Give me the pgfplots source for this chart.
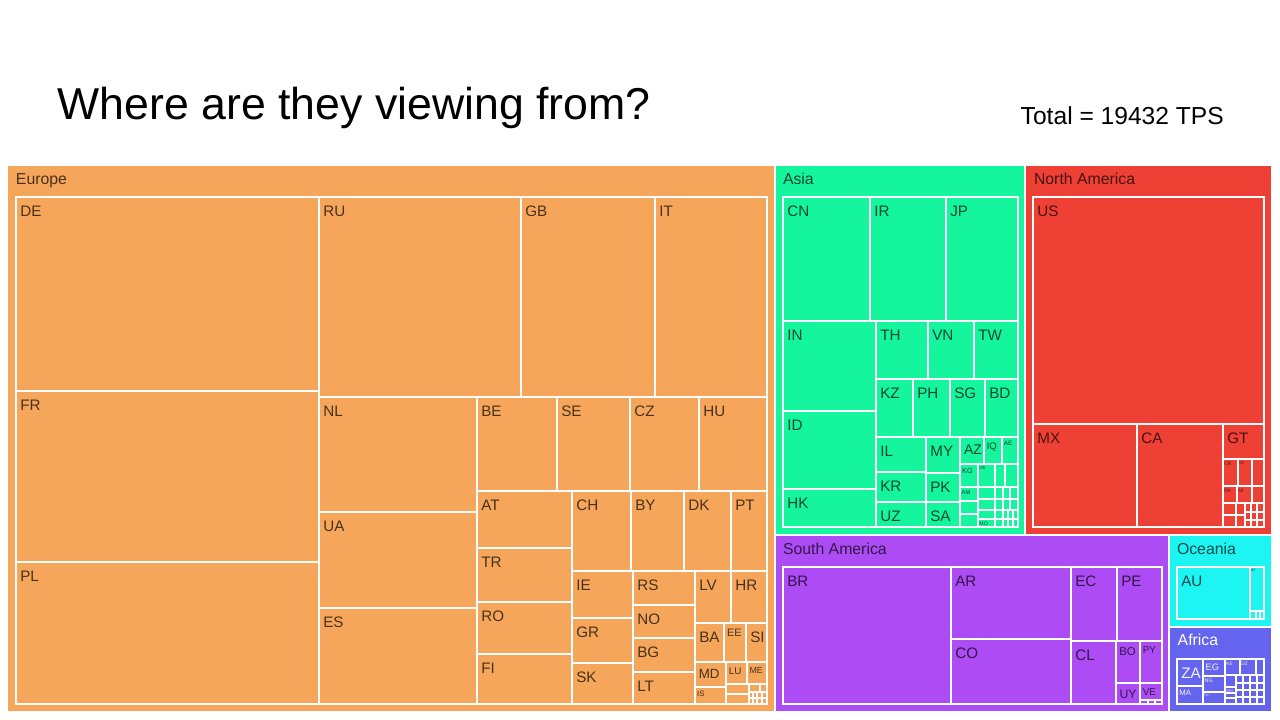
\documentclass[border=0pt]{standalone}
\usepackage{pgfplots}
\pgfplotsset{compat=1.18}
\usepackage{fontspec}
\setmainfont{Liberation Sans}
\definecolor{EU}{RGB}{245,166,91}
\definecolor{AS}{RGB}{20,245,158}
\definecolor{NA}{RGB}{238,64,52}
\definecolor{SA}{RGB}{173,76,245}
\definecolor{OC}{RGB}{28,245,242}
\definecolor{AF}{RGB}{100,100,238}
% region rectangle
\newcommand{\G}[5]{\addplot[fill=#1, draw=white, line width=0.55pt] coordinates {(#2,#3) (#4,#3) (#4,#5) (#2,#5)} --cycle;}
% country rectangle
\newcommand{\R}[5]{\addplot[fill=#1, draw=white, line width=0.42pt] coordinates {(#2,#3) (#4,#3) (#4,#5) (#2,#5)} --cycle;}
% label: left, top, cap height (px), text
\newcommand{\lab}[4]{\node[anchor=base west, inner sep=0pt, outer sep=0pt, text=black, text opacity=0.7, font=\fontsize{\fpeval{#3*0.42}}{\fpeval{#3*0.5}}\selectfont] at (axis cs:{#1+0.42*#3},{#2+1.88*#3}) {#4};}
\newcommand{\labw}[4]{\node[anchor=base west, inner sep=0pt, outer sep=0pt, text=white, text opacity=0.92, font=\fontsize{\fpeval{#3*0.42}}{\fpeval{#3*0.5}}\selectfont] at (axis cs:{#1+0.42*#3},{#2+1.88*#3}) {#4};}
\newcommand{\reglab}[3]{\node[anchor=base west, inner sep=0pt, outer sep=0pt, text=black, text opacity=0.7, font=\fontsize{4.5}{5.5}\selectfont] at (axis cs:#1,#2) {#3};}
\begin{document}
\begin{tikzpicture}
\begin{axis}[scale only axis, width=12.8cm, height=7.2cm,
  xmin=0, xmax=1280, ymin=0, ymax=720, y dir=reverse,
  hide axis, clip=false]
% ---------- regions ----------
\G{EU}{7.5}{165.5}{775}{711.5}
\G{AS}{775}{165.5}{1025}{535}
\G{NA}{1025}{165.5}{1272}{535}
\G{SA}{775}{535}{1169}{711.5}
\G{OC}{1169}{535}{1272}{627}
\G{AF}{1169}{627}{1272}{711.5}
% ---------- Europe ----------
\R{EU}{16}{197}{319}{391}
\R{EU}{16}{391}{319}{562}
\R{EU}{16}{562}{319}{704}
\R{EU}{319}{197}{521}{397}
\R{EU}{521}{197}{655}{397}
\R{EU}{655}{197}{767}{397}
\R{EU}{319}{397}{477}{512}
\R{EU}{319}{512}{477}{608}
\R{EU}{319}{608}{477}{704}
\R{EU}{477}{397}{557}{491}
\R{EU}{557}{397}{630}{491}
\R{EU}{630}{397}{699}{491}
\R{EU}{699}{397}{767}{491}
\R{EU}{477}{491}{572}{548}
\R{EU}{477}{548}{572}{602}
\R{EU}{477}{602}{572}{654}
\R{EU}{477}{654}{572}{704}
\R{EU}{572}{491}{631}{571}
\R{EU}{631}{491}{684}{571}
\R{EU}{684}{491}{731}{571}
\R{EU}{731}{491}{767}{571}
\R{EU}{572}{571}{633}{618}
\R{EU}{572}{618}{633}{663}
\R{EU}{572}{663}{633}{704}
\R{EU}{633}{571}{695}{605}
\R{EU}{633}{605}{695}{638}
\R{EU}{633}{638}{695}{672}
\R{EU}{633}{672}{695}{704}
\R{EU}{695}{571}{731}{623}
\R{EU}{731}{571}{767}{623}
\R{EU}{695}{623}{724}{662}
\R{EU}{724}{623}{746}{662}
\R{EU}{746}{623}{767}{662}
\R{EU}{695}{662}{726}{687}
\R{EU}{726}{662}{747}{684}
\R{EU}{747}{662}{767}{684}
\R{EU}{695}{687}{726}{704}
\R{EU}{726}{684}{749}{694}
\R{EU}{726}{694}{749}{704}
\R{EU}{749}{684}{760}{692}
\R{EU}{760}{684}{767}{692}
\R{EU}{749}{692}{753}{698}
\R{EU}{753}{692}{757}{698}
\R{EU}{757}{692}{762}{698}
\R{EU}{762}{692}{767}{698}
\R{EU}{749}{698}{753}{704}
\R{EU}{753}{698}{757}{704}
\R{EU}{757}{698}{762}{704}
\R{EU}{762}{698}{767}{704}
% ---------- Asia ----------
\R{AS}{783}{197}{870}{321}
\R{AS}{870}{197}{946}{321}
\R{AS}{946}{197}{1018}{321}
\R{AS}{783}{321}{876}{411}
\R{AS}{783}{411}{876}{489}
\R{AS}{783}{489}{876}{527}
\R{AS}{876}{321}{928}{379}
\R{AS}{928}{321}{974}{379}
\R{AS}{974}{321}{1018}{379}
\R{AS}{876}{379}{913}{437}
\R{AS}{913}{379}{950}{437}
\R{AS}{950}{379}{985}{437}
\R{AS}{985}{379}{1018}{437}
\R{AS}{876}{437}{926}{472}
\R{AS}{876}{472}{926}{502}
\R{AS}{876}{502}{926}{527}
\R{AS}{926}{437}{960}{473}
\R{AS}{926}{473}{960}{502}
\R{AS}{926}{502}{960}{527}
\R{AS}{960}{437}{984}{464}
\R{AS}{984}{437}{1002}{464}
\R{AS}{1002}{437}{1018}{464}
\R{AS}{960}{464}{978}{487}
\R{AS}{978}{464}{995}{487}
\R{AS}{995}{464}{1005}{487}
\R{AS}{1005}{464}{1018}{487}
\R{AS}{960}{487}{978}{501}
\R{AS}{960}{501}{978}{514}
\R{AS}{960}{514}{978}{527}
\R{AS}{978}{487}{995}{499}
\R{AS}{995}{487}{1003}{499}
\R{AS}{1003}{487}{1010}{499}
\R{AS}{1010}{487}{1018}{499}
\R{AS}{978}{499}{995}{510}
\R{AS}{995}{499}{1003}{510}
\R{AS}{1003}{499}{1010}{510}
\R{AS}{1010}{499}{1018}{510}
\R{AS}{978}{510}{995}{519}
\R{AS}{995}{510}{1003}{519}
\R{AS}{1003}{510}{1008}{519}
\R{AS}{1008}{510}{1013}{519}
\R{AS}{1013}{510}{1018}{519}
\R{AS}{978}{519}{995}{527}
\R{AS}{995}{519}{1003}{527}
\R{AS}{1003}{519}{1008}{527}
\R{AS}{1008}{519}{1013}{527}
\R{AS}{1013}{519}{1018}{527}
% ---------- North America ----------
\R{NA}{1033}{197}{1264}{424}
\R{NA}{1033}{424}{1137}{527}
\R{NA}{1137}{424}{1223}{527}
\R{NA}{1223}{424}{1264}{459}
\R{NA}{1223}{459}{1238}{486}
\R{NA}{1238}{459}{1252}{486}
\R{NA}{1252}{459}{1264}{486}
\R{NA}{1223}{486}{1237}{503}
\R{NA}{1237}{486}{1252}{503}
\R{NA}{1252}{486}{1264}{503}
\R{NA}{1223}{503}{1236}{515}
\R{NA}{1223}{515}{1236}{527}
\R{NA}{1236}{503}{1245}{515}
\R{NA}{1236}{515}{1245}{527}
\R{NA}{1245}{503}{1251}{512}
\R{NA}{1251}{503}{1257}{512}
\R{NA}{1257}{503}{1264}{512}
\R{NA}{1245}{512}{1251}{520}
\R{NA}{1251}{512}{1257}{520}
\R{NA}{1257}{512}{1264}{520}
\R{NA}{1245}{520}{1251}{527}
\R{NA}{1251}{520}{1257}{527}
\R{NA}{1257}{520}{1264}{527}
% ---------- South America ----------
\R{SA}{783}{567}{951}{704}
\R{SA}{951}{567}{1071}{639}
\R{SA}{951}{639}{1071}{704}
\R{SA}{1071}{567}{1117}{641}
\R{SA}{1117}{567}{1162}{641}
\R{SA}{1071}{641}{1116}{704}
\R{SA}{1116}{641}{1140}{683}
\R{SA}{1140}{641}{1162}{683}
\R{SA}{1116}{683}{1140}{704}
\R{SA}{1140}{683}{1162}{700}
\R{SA}{1140}{700}{1148}{704}
\R{SA}{1148}{700}{1155}{704}
\R{SA}{1155}{700}{1162}{704}
% ---------- Oceania ----------
\R{OC}{1177}{567}{1250}{619}
\R{OC}{1250}{567}{1264}{611}
\R{OC}{1250}{611}{1256}{619}
\R{OC}{1256}{611}{1260}{619}
\R{OC}{1260}{611}{1264}{619}
% ---------- Africa ----------
\R{AF}{1177}{659}{1203}{686}
\R{AF}{1177}{686}{1203}{704}
\R{AF}{1203}{659}{1225}{676}
\R{AF}{1203}{676}{1225}{692}
\R{AF}{1203}{692}{1225}{704}
\R{AF}{1225}{659}{1240}{675}
\R{AF}{1240}{659}{1256}{675}
\R{AF}{1256}{659}{1264}{675}
\R{AF}{1225}{675}{1236}{687}
\R{AF}{1225}{687}{1236}{693}
\R{AF}{1225}{693}{1236}{698}
\R{AF}{1225}{698}{1236}{704}
\R{AF}{1236}{675}{1243}{683}
\R{AF}{1243}{675}{1250}{683}
\R{AF}{1250}{675}{1257}{683}
\R{AF}{1257}{675}{1264}{683}
\R{AF}{1236}{683}{1243}{690}
\R{AF}{1243}{683}{1250}{690}
\R{AF}{1250}{683}{1257}{690}
\R{AF}{1257}{683}{1264}{690}
\R{AF}{1236}{690}{1243}{697}
\R{AF}{1243}{690}{1250}{697}
\R{AF}{1250}{690}{1257}{697}
\R{AF}{1257}{690}{1264}{697}
\R{AF}{1236}{697}{1243}{704}
\R{AF}{1243}{697}{1250}{704}
\R{AF}{1250}{697}{1257}{704}
\R{AF}{1257}{697}{1264}{704}
% ---------- region labels ----------
\reglab{16}{184}{Europe}
\reglab{783}{184}{Asia}
\reglab{1034}{184}{North America}
\reglab{783}{554}{South America}
\reglab{1177}{554}{Oceania}
\node[anchor=base west, inner sep=0pt, text=white, font=\fontsize{4.5}{5.5}\selectfont] at (axis cs:1177,645) {Africa};
% ---------- Europe labels ----------
\lab{16}{197}{10.3}{DE}
\lab{16}{391}{10.3}{FR}
\lab{16}{562}{10.3}{PL}
\lab{319}{197}{10.3}{RU}
\lab{521}{197}{10.3}{GB}
\lab{655}{197}{10.3}{IT}
\lab{319}{397}{10.3}{NL}
\lab{319}{512}{10.3}{UA}
\lab{319}{608}{10.3}{ES}
\lab{477}{397}{10.3}{BE}
\lab{557}{397}{10.3}{SE}
\lab{630}{397}{10.3}{CZ}
\lab{699}{397}{10.3}{HU}
\lab{477}{491}{10.3}{AT}
\lab{477}{548}{10.3}{TR}
\lab{477}{602}{10.3}{RO}
\lab{477}{654}{10.3}{FI}
\lab{572}{491}{10.3}{CH}
\lab{631}{491}{10.3}{BY}
\lab{684}{491}{10.3}{DK}
\lab{731}{491}{10.3}{PT}
\lab{572}{571}{10.3}{IE}
\lab{572}{618}{10.3}{GR}
\lab{572}{663}{10.3}{SK}
\lab{633}{571}{10.3}{RS}
\lab{633}{605}{10.3}{NO}
\lab{633}{638}{10.3}{BG}
\lab{633}{672}{10.3}{LT}
\lab{695}{571}{10.3}{LV}
\lab{731}{571}{10.3}{HR}
\lab{695}{623}{10.3}{BA}
\lab{724}{623}{7.3}{EE}
\lab{746}{623}{10.3}{SI}
\lab{695}{662}{9}{MD}
\lab{726}{662}{6.7}{LU}
\lab{747}{662}{6}{ME}
\lab{695}{687}{5.3}{IS}
% ---------- Asia labels ----------
\lab{783}{197}{10.3}{CN}
\lab{870}{197}{10.3}{IR}
\lab{946}{197}{10.3}{JP}
\lab{783}{321}{10.3}{IN}
\lab{783}{411}{10.3}{ID}
\lab{783}{489}{10.3}{HK}
\lab{876}{321}{10.3}{TH}
\lab{928}{321}{10.3}{VN}
\lab{974}{321}{10.3}{TW}
\lab{876}{379}{10.3}{KZ}
\lab{913}{379}{10.3}{PH}
\lab{950}{379}{10.3}{SG}
\lab{985}{379}{10.3}{BD}
\lab{876}{437}{10.3}{IL}
\lab{876}{472}{10.3}{KR}
\lab{876}{502}{10.3}{UZ}
\lab{926}{437}{10.3}{MY}
\lab{926}{473}{10.3}{PK}
\lab{926}{502}{10.3}{SA}
\lab{960}{437}{9.5}{AZ}
\lab{984}{437}{6.5}{IQ}
\lab{1002}{437}{4.3}{AE}
\lab{960}{464}{5}{KG}
\lab{978}{464}{3}{GE}
\lab{960}{487}{4}{AM}
\lab{978}{519}{3.5}{MO}
% ---------- North America labels ----------
\lab{1033}{197}{10.3}{US}
\lab{1033}{424}{10.3}{MX}
\lab{1137}{424}{10.3}{CA}
\lab{1223}{424}{10.3}{GT}
\lab{1223}{459}{3.3}{CR}
\lab{1238}{459}{2.7}{SV}
\lab{1223}{486}{3.3}{PA}
\lab{1237}{486}{3.3}{NI}
% ---------- South America labels ----------
\lab{783}{567}{10.3}{BR}
\lab{951}{567}{10.3}{AR}
\lab{951}{639}{10.3}{CO}
\lab{1071}{567}{10.3}{EC}
\lab{1117}{567}{10.3}{PE}
\lab{1071}{641}{10.3}{CL}
\lab{1116}{641}{7.7}{BO}
\lab{1140}{641}{6.7}{PY}
\lab{1116}{683}{8.3}{UY}
\lab{1140}{683}{6.7}{VE}
% ---------- Oceania labels ----------
\lab{1177}{567}{10.3}{AU}
\lab{1250}{567}{2.3}{NZ}
% ---------- Africa labels ----------
\labw{1177}{659}{10.3}{ZA}
\labw{1203}{659}{6.3}{EG}
\labw{1177}{686}{5.3}{MA}
\labw{1203}{676}{3.7}{NG}
\labw{1225}{659}{3.3}{KE}
\labw{1240}{659}{3.3}{DZ}
\labw{1203}{692}{2.3}{TN}
\labw{1225}{687}{3}{GH}
% ---------- titles ----------
\node[anchor=base west, inner sep=0pt, font=\fontsize{12.7}{15}\selectfont] at (axis cs:57,119) {Where are they viewing from?};
\node[anchor=base west, inner sep=0pt, font=\fontsize{7.0}{8}\selectfont] at (axis cs:1020,124) {Total = 19432 TPS};
\end{axis}
\path (current axis.south west) rectangle (current axis.north east);
\end{tikzpicture}
\end{document}
